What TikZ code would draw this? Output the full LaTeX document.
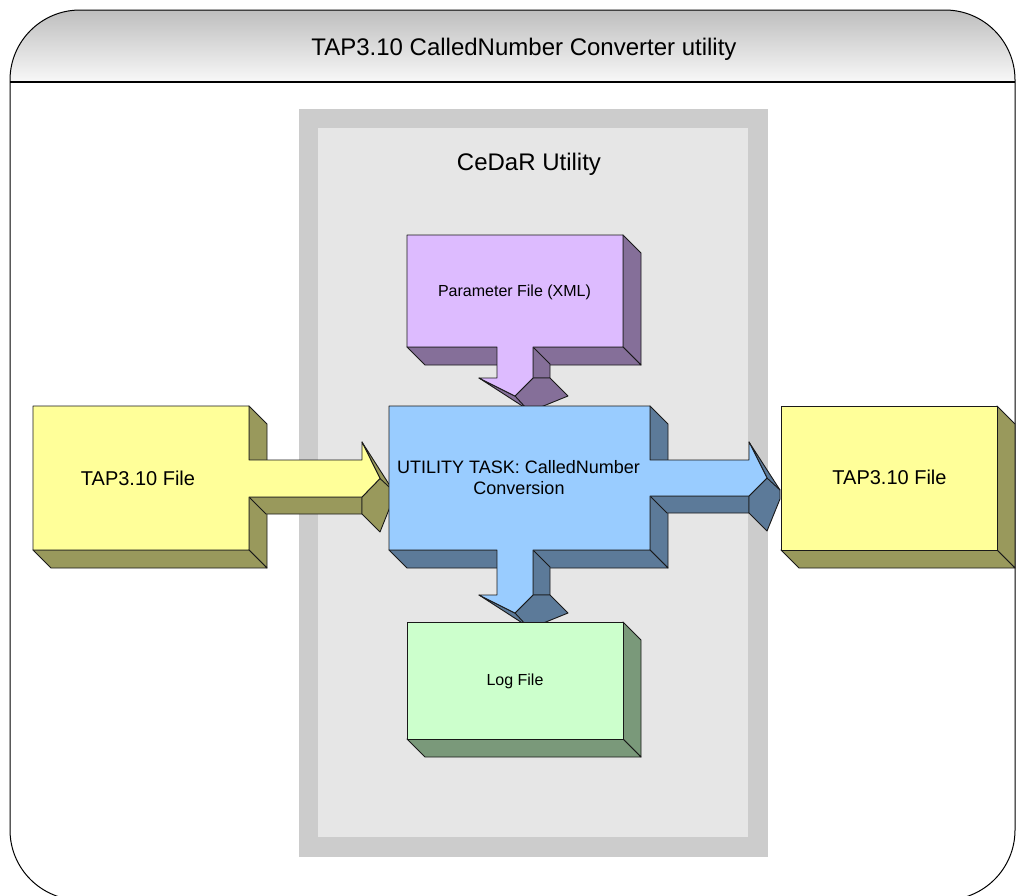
\documentclass[tikz,border=0pt]{standalone}
\usepackage{fontspec}
\setmainfont{Liberation Sans}
\definecolor{yF}{HTML}{FFFF99}
\definecolor{yD}{HTML}{99995C}
\definecolor{bF}{HTML}{99CCFF}
\definecolor{bD}{HTML}{5C7A99}
\definecolor{pF}{HTML}{DDBBFF}
\definecolor{pD}{HTML}{856F99}
\definecolor{gF}{HTML}{CCFFCC}
\definecolor{gD}{HTML}{7A997A}
\definecolor{cOut}{HTML}{CCCCCC}
\definecolor{cIn}{HTML}{E6E6E6}
\definecolor{hdrTop}{HTML}{BEBEBE}
\definecolor{hdrBot}{HTML}{F8F8F8}
\newcommand{\BoxDark}[5]{%
  \filldraw[outl,fill=#5] (#3,#2) -- (#3+18,#2+18) -- (#3+18,#4+18) -- (#3,#4) -- cycle;
  \filldraw[outl,fill=#5] (#1,#4) -- (#3,#4) -- (#3+18,#4+18) -- (#1+18,#4+18) -- cycle;}
\newcommand{\HeadR}[4]{%
  \filldraw[outl,fill=#4] (#1,#2-18) -- (#1+31,{(#2+#3)/2+12}) -- (#1+31,{(#2+#3)/2+21}) -- (#1+18,#3+35) -- (#1,#3+17) -- (#1,#3) -- (#1+18,{(#2+#3)/2}) -- cycle;
  \draw[outl] (#1+18,{(#2+#3)/2}) -- (#1+31,{(#2+#3)/2+12});}
\newcommand{\HeadD}[4]{%
  \filldraw[outl,fill=#4] (#2-18,#1) -- ({(#2+#3)/2+12},#1+31) -- ({(#2+#3)/2+21},#1+31) -- (#3+35,#1+18) -- (#3+17,#1) -- (#3,#1) -- ({(#2+#3)/2},#1+18) -- cycle;
  \draw[outl] ({(#2+#3)/2},#1+18) -- ({(#2+#3)/2+12},#1+31);}
\begin{document}
\begin{tikzpicture}[x=1pt,y=-1pt,line join=round,
  outl/.style={draw=black!90,line width=0.9pt},
  lbl/.style={inner sep=0pt,anchor=base,text=black}]
\useasboundingbox (0,0) rectangle (1025,895);
% outer frame
\begin{scope}
\clip (0,0) rectangle (1025,895);
\begin{scope}
\clip[rounded corners=70pt] (10,10) rectangle (1015,900);
\shade[top color=hdrTop,bottom color=hdrBot] (10,10) rectangle (1015,82);
\end{scope}
\draw[line width=1pt,rounded corners=70pt] (10,10) rectangle (1015,900);
\draw[line width=1.5pt] (10,82) -- (1015,82);
\end{scope}
% container
\fill[cOut] (299,109) rectangle (768,857);
\fill[cIn] (318,128) rectangle (748,837);
% left TAP3.10 file with arrow
\BoxDark{33}{406}{249}{550}{yD}
\filldraw[outl,fill=yD] (249,497) -- (362,497) -- (362,514) -- (266,514) -- cycle;
\HeadR{362}{460}{497}{yD}
\filldraw[outl,fill=yF] (33,406) -- (249,406) -- (249,460) -- (362,460) -- (362,442) -- (380,478.5) -- (362,497) -- (249,497) -- (249,550) -- (33,550) -- cycle;
% parameter file with arrow
\BoxDark{407}{235}{623}{347}{pD}
\filldraw[outl,fill=pD] (533,347) -- (533,378) -- (550,378) -- (550,364) -- cycle;
\HeadD{378}{497}{533}{pD}
\filldraw[outl,fill=pF] (407,235) -- (623,235) -- (623,347) -- (533,347) -- (533,378) -- (515,396) -- (479,378) -- (497,378) -- (497,347) -- (407,347) -- cycle;
% utility task with arrows
\BoxDark{389}{406}{650}{550}{bD}
\filldraw[outl,fill=bD] (650,496) -- (749,496) -- (749,513) -- (667,513) -- cycle;
\HeadR{749}{460}{496}{bD}
\filldraw[outl,fill=bD] (533,550) -- (533,595) -- (550,595) -- (550,567) -- cycle;
\HeadD{595}{497}{533}{bD}
\filldraw[outl,fill=bF] (389,406) -- (650,406) -- (650,460) -- (749,460) -- (749,442) -- (767,478) -- (749,496) -- (650,496) -- (650,550) -- (533,550) -- (533,595) -- (515,613) -- (479,595) -- (497,595) -- (497,550) -- (389,550) -- cycle;
% right TAP3.10 file
\BoxDark{781}{406}{997}{550}{yD}
\filldraw[outl,fill=yF] (781,406) rectangle (997,550);
% log file
\BoxDark{407}{622}{623}{739}{gD}
\filldraw[outl,fill=gF] (407,622) rectangle (623,739);
% texts
\node[lbl,font=\fontsize{24}{28}\selectfont] (title) at (524,55.6) {TAP3.10 CalledNumber Converter utility};
\node[lbl,font=\fontsize{24}{28}\selectfont] (cedar) at (529,170.6) {CeDaR Utility};
\node[lbl,font=\fontsize{20}{24}\selectfont] (tapin) at (138,485.2) {TAP3.10 File};
\node[lbl,font=\fontsize{20}{24}\selectfont] (tapout) at (889.5,484.2) {TAP3.10 File};
\node[lbl,font=\fontsize{18}{21}\selectfont] (util1) at (518.5,473.5) {UTILITY TASK: CalledNumber};
\node[lbl,font=\fontsize{18}{21}\selectfont] (util2) at (519,494.5) {Conversion};
\node[lbl,font=\fontsize{16}{19}\selectfont] (param) at (514.5,296.8) {Parameter File (XML)};
\node[lbl,font=\fontsize{16}{19}\selectfont] (log) at (515,685.8) {Log File};
\end{tikzpicture}
\end{document}
